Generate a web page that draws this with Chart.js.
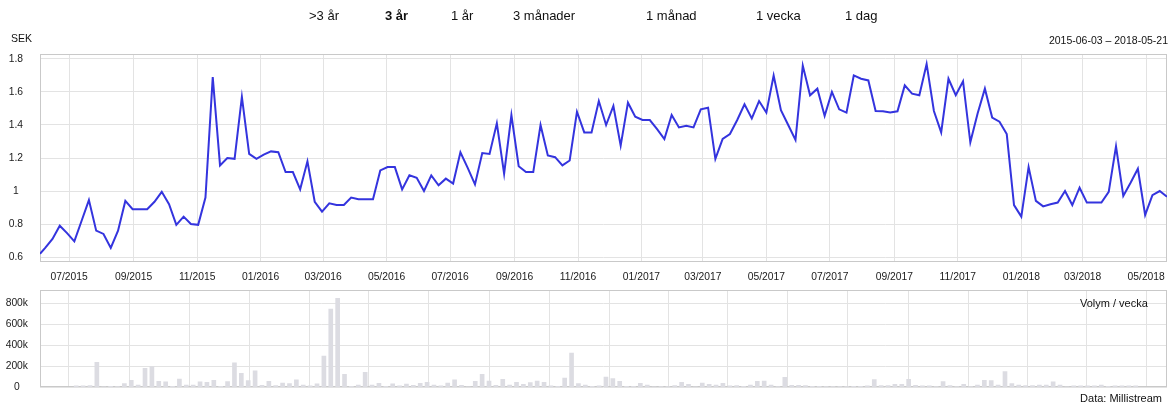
<!DOCTYPE html>
<html>
<head>
<meta charset="utf-8">
<script src="https://cdn.jsdelivr.net/npm/chart.js@4/dist/chart.umd.min.js"></script>
<style>
  body { margin: 0; background: #fff; font-family: "Liberation Sans", Arial, Helvetica, sans-serif; color: #111; }
  #wrap { position: relative; width: 1174px; height: 409px; overflow: hidden; }
  .abs { position: absolute; white-space: nowrap; }
  .btn { font-size: 13px; line-height: 15px; top: 8px; }
  #priceBox { position: absolute; left: 0; top: 0; width: 1174px; height: 290px; }
  #volBox { position: absolute; left: 0; top: 265px; width: 1174px; height: 144px; }
</style>
</head>
<body>
<div id="wrap">
  <div id="priceBox"><canvas id="priceChart"></canvas></div>
  <div id="volBox"><canvas id="volumeChart"></canvas></div>
  <div id="buttons"></div>
  <div class="abs" style="left:11px; top:32px; font-size:10.5px; line-height:12px;">SEK</div>
  <div class="abs" style="right:6px; top:34px; font-size:10.5px; line-height:12px;">2015-06-03 – 2018-05-21</div>
  <div class="abs" style="left:1080px; top:297px; font-size:11px; line-height:13px;">Volym / vecka</div>
  <div class="abs" style="right:12px; top:392px; font-size:11px; line-height:13px;">Data: Millistream</div>
</div>
<script>
// --- Data ---
const rangeButtons = ['>3 år', '3 år', '1 år', '3 månader', '1 månad', '1 vecka', '1 dag'];
const activeRange = '3 år';

const openDate = '2015-06-03';
const endDate = '2018-05-21';
const openPrice = 0.62;
const firstWeek = '2015-06-08';  // weekly closes, Mondays

const weeklyPrice = [
  0.655, 0.71, 0.79, 0.745, 0.695, 0.82, 0.945, 0.76, 0.74, 0.655,
  0.76, 0.94, 0.89, 0.89, 0.89, 0.935, 0.995, 0.92, 0.795, 0.845,
  0.80, 0.795, 0.96, 1.69, 1.155, 1.20, 1.195, 1.57, 1.225, 1.195,
  1.22, 1.24, 1.235, 1.115, 1.115, 1.01, 1.18, 0.935, 0.875, 0.925,
  0.915, 0.915, 0.96, 0.95, 0.95, 0.95, 1.125, 1.145, 1.145, 1.01,
  1.095, 1.08, 1.0, 1.095, 1.035, 1.075, 1.045, 1.235, 1.14, 1.04,
  1.23, 1.225, 1.41, 1.105, 1.46, 1.15, 1.115, 1.115, 1.40, 1.215,
  1.205, 1.155, 1.185, 1.48, 1.355, 1.355, 1.545, 1.40, 1.515, 1.275,
  1.535, 1.45, 1.43, 1.43, 1.375, 1.315, 1.46, 1.385, 1.395, 1.385,
  1.495, 1.505, 1.195, 1.315, 1.345, 1.43, 1.525, 1.44, 1.545, 1.475,
  1.70, 1.49, 1.40, 1.31, 1.76, 1.58, 1.62, 1.455, 1.60, 1.495,
  1.475, 1.70, 1.68, 1.67, 1.485, 1.483, 1.475, 1.483, 1.64, 1.59,
  1.58, 1.77, 1.485, 1.355, 1.68, 1.58, 1.665, 1.295, 1.47, 1.62,
  1.445, 1.42, 1.345, 0.915, 0.845, 1.145, 0.94, 0.907, 0.92, 0.93,
  1.0, 0.915, 1.02, 0.93, 0.93, 0.93, 0.995, 1.27, 0.97, 1.05,
  1.135, 0.855, 0.975, 1.0, 0.965
];

// weekly volume, thousands of shares
const weeklyVolume = [
  13, 13, 16, 238, 3, 10, 6, 35, 67, 22,
  181, 197, 57, 51, 10, 79, 22, 22, 51, 48,
  67, 10, 54, 232, 133, 63, 156, 19, 57, 16,
  41, 35, 70, 22, 13, 32, 298, 746, 848, 124,
  10, 22, 143, 22, 38, 10, 32, 13, 30, 19,
  38, 48, 22, 13, 41, 70, 19, 3, 57, 124,
  60, 19, 76, 22, 48, 29, 44, 60, 48, 13,
  10, 89, 327, 35, 22, 10, 13, 98, 83, 57,
  10, 10, 38, 22, 2, 6, 6, 16, 48, 29,
  2, 41, 29, 22, 38, 13, 16, 10, 22, 57,
  60, 22, 6, 95, 19, 19, 16, 10, 10, 6,
  6, 6, 6, 10, 10, 13, 73, 16, 16, 29,
  29, 76, 19, 13, 13, 6, 54, 16, 6, 29,
  6, 22, 67, 63, 22, 149, 35, 22, 16, 16,
  22, 22, 51, 22, 2, 13, 13, 13, 13, 22,
  10, 13, 13, 13, 13
];

const monthLabels = [
  '07/2015', '09/2015', '11/2015', '01/2016', '03/2016', '05/2016',
  '07/2016', '09/2016', '11/2016', '01/2017', '03/2017', '05/2017',
  '07/2017', '09/2017', '11/2017', '01/2018', '03/2018', '05/2018'
];
const priceTicks = [0.6, 0.8, 1, 1.2, 1.4, 1.6, 1.8];
const volumeTicks = [0, 200000, 400000, 600000, 800000];
const volumeTickLabels = ['0', '200k', '400k', '600k', '800k'];

// --- Helpers ---
const DAY = 86400000;
function ts(s) {
  const p = s.split('-').map(Number);
  return Date.UTC(p[0], p[1] - 1, p[2]);
}
function monthTs(label) {
  const p = label.split('/').map(Number);
  return Date.UTC(p[1], p[0] - 1, 1);
}
function monthLabel(v) {
  const d = new Date(v);
  return String(d.getUTCMonth() + 1).padStart(2, '0') + '/' + d.getUTCFullYear();
}

const weekStart = ts(firstWeek);
const pricePoints = [{ x: ts(openDate), y: openPrice }].concat(
  weeklyPrice.map((v, i) => ({ x: weekStart + i * 7 * DAY, y: v }))
);
const volumePoints = weeklyVolume.map((v, i) => ({ x: weekStart + i * 7 * DAY, y: v * 1000 }));

// --- Header buttons ---
const buttonX = [309, 385, 451, 513, 646, 756, 845];
const btnHost = document.getElementById('buttons');
rangeButtons.forEach((label, i) => {
  const el = document.createElement('div');
  el.className = 'abs btn';
  el.style.left = buttonX[i] + 'px';
  if (label === activeRange) el.style.fontWeight = 'bold';
  el.textContent = label;
  btnHost.appendChild(el);
});

// --- Chart setup ---
Chart.defaults.font.family = '"Liberation Sans", Arial, Helvetica, sans-serif';
Chart.defaults.font.size = 10.3;
Chart.defaults.color = '#1a1a1a';

const GRID = '#e3e3e3';
const FRAME = '#c9c9c9';

// plot frame around chart area
const framePlugin = {
  id: 'frame',
  beforeDatasetsDraw(chart) {
    const a = chart.chartArea;
    const ctx = chart.ctx;
    ctx.save();
    ctx.strokeStyle = FRAME;
    ctx.lineWidth = 1;
    ctx.strokeRect(Math.round(a.left) + 0.5, Math.round(a.top) + 0.5,
      Math.round(a.right - a.left) - 1, Math.round(a.bottom - a.top) - 1);
    ctx.restore();
  }
};

function monthAxis(showLabels) {
  return {
    type: 'linear',
    min: ts(openDate),
    max: ts(endDate),
    afterBuildTicks: axis => { axis.ticks = monthLabels.map(l => ({ value: monthTs(l) })); },
    afterFit: axis => { axis.height = showLabels ? 28 : 0; },
    grid: { color: GRID, drawTicks: false },
    border: { display: false },
    ticks: {
      display: showLabels,
      autoSkip: false,
      maxRotation: 0,
      padding: 9,
      callback: v => monthLabel(v)
    }
  };
}

new Chart(document.getElementById('priceChart'), {
  type: 'line',
  data: {
    datasets: [{
      label: 'SEK',
      data: pricePoints,
      borderColor: '#3434de',
      borderWidth: 2,
      pointRadius: 0,
      tension: 0,
      fill: false
    }]
  },
  options: {
    responsive: true,
    maintainAspectRatio: false,
    animation: false,
    layout: { padding: { top: 54, right: 7, bottom: 0, left: 0 } },
    plugins: { legend: { display: false }, tooltip: { enabled: false } },
    scales: {
      x: monthAxis(true),
      y: {
        min: 0.57,
        max: 1.83,
        afterBuildTicks: axis => { axis.ticks = priceTicks.map(v => ({ value: v })); },
        afterFit: axis => { axis.width = 40; },
        grid: { color: GRID, drawTicks: false },
        border: { display: false },
        ticks: {
          crossAlign: 'center',
          padding: 17,
          callback: v => String(Math.round(v * 10) / 10)
        }
      }
    }
  },
  plugins: [framePlugin]
});

new Chart(document.getElementById('volumeChart'), {
  type: 'bar',
  data: {
    datasets: [{
      label: 'Volym',
      data: volumePoints,
      backgroundColor: '#dcdce2',
      barThickness: 4
    }]
  },
  options: {
    responsive: true,
    maintainAspectRatio: false,
    animation: false,
    layout: { padding: { top: 25, right: 7, bottom: 21.7, left: 0 } },
    plugins: { legend: { display: false }, tooltip: { enabled: false } },
    scales: {
      x: monthAxis(false),
      y: {
        min: 0,
        max: 927000,
        afterBuildTicks: axis => { axis.ticks = volumeTicks.map(v => ({ value: v })); },
        afterFit: axis => { axis.width = 40; },
        grid: { color: GRID, drawTicks: false },
        border: { display: false },
        ticks: {
          crossAlign: 'center',
          padding: 12,
          callback: v => volumeTickLabels[volumeTicks.indexOf(v)]
        }
      }
    }
  },
  plugins: [framePlugin]
});
</script>
</body>
</html>
